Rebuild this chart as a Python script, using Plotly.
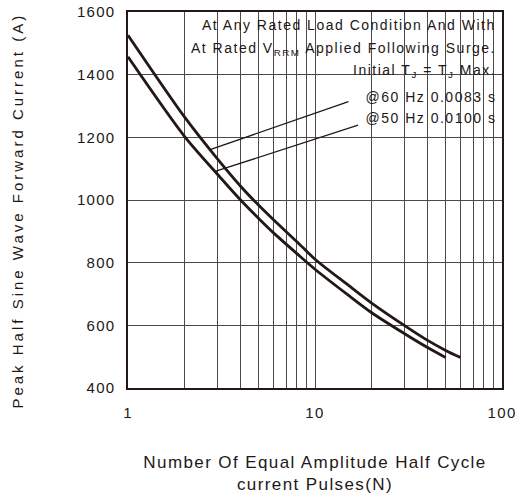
import numpy as np
import plotly.graph_objects as go

# ---- data ----
N_60 = [1, 2, 3, 4, 5, 6, 8, 10, 15, 20, 30, 40, 50, 60]
I_60 = [1526, 1266, 1132, 1044, 983, 937, 867, 811, 729, 672, 600, 552, 520, 497]
N_50 = [1, 2, 3, 4, 5, 6, 8, 10, 15, 20, 30, 40, 50]
I_50 = [1457, 1204, 1083, 1000, 941, 895, 829, 779, 697, 641, 574, 529, 497]

x_major = [1, 10, 100]
x_minor = [2, 3, 4, 5, 6, 7, 8, 9, 20, 30, 40, 50, 60, 70, 80, 90]
y_tickvals = [400, 600, 800, 1000, 1200, 1400, 1600]

# leader lines: point on curve (N) -> label end (N, I)
lead60_N = [2.75, 15.1]
lead60_I_end = 1314
lead50_N = [2.92, 17.0]
lead50_I_end = 1239

notes = [
    "At Any Rated Load Condition And With",
    "At Rated V<sub>RRM</sub> Applied Following Surge.",
    "Initial T<sub>J</sub> = T<sub>J</sub> Max.",
    "@60 Hz 0.0083 s",
    "@50 Hz 0.0100 s",
]
x_title = "Number Of Equal Amplitude Half Cycle<br>current Pulses(N)"
y_title = "Peak Half Sine Wave Forward Current (A)"

INK = "#231815"
GRID = "#4d4949"
FONT = "Liberation Sans, Arial, sans-serif"


def on_curve(n, Ns, Is):
    return float(np.interp(np.log10(n), np.log10(Ns), Is))


fig = go.Figure()
fig.add_trace(go.Scatter(x=N_60, y=I_60, mode="lines", line=dict(color=INK, width=2.8, shape="spline", smoothing=0.8),
                         showlegend=False, hoverinfo="skip"))
fig.add_trace(go.Scatter(x=N_50, y=I_50, mode="lines", line=dict(color=INK, width=2.8, shape="spline", smoothing=0.8),
                         showlegend=False, hoverinfo="skip"))
fig.add_trace(go.Scatter(x=lead60_N, y=[on_curve(lead60_N[0], N_60, I_60), lead60_I_end], mode="lines",
                         line=dict(color=INK, width=1.3), showlegend=False, hoverinfo="skip"))
fig.add_trace(go.Scatter(x=lead50_N, y=[on_curve(lead50_N[0], N_50, I_50), lead50_I_end], mode="lines",
                         line=dict(color=INK, width=1.3), showlegend=False, hoverinfo="skip"))

# white boxes hiding grid behind the notes
fig.add_shape(type="rect", xref="paper", yref="paper", x0=0.156, x1=0.997, y0=0.855, y1=0.99,
              fillcolor="white", line=dict(width=0), layer="between")
fig.add_shape(type="rect", xref="paper", yref="paper", x0=0.595, x1=0.997, y0=0.68, y1=0.856,
              fillcolor="white", line=dict(width=0), layer="between")

ys = [0.966, 0.901, 0.842, 0.775, 0.719]
for t, yy in zip(notes, ys):
    fig.add_annotation(text=t, xref="paper", yref="paper", x=0.99, y=yy, xanchor="right", yanchor="middle",
                       align="right", showarrow=False, font=dict(family=FONT, size=14, color=INK))

# y-axis title as rotated text
fig.add_annotation(text=y_title, xref="paper", yref="paper", x=-0.297, y=0.473, xanchor="center",
                   yanchor="middle", textangle=-90, showarrow=False,
                   font=dict(family=FONT, size=15, color=INK))

fig.update_xaxes(type="log", range=[0, 2], tickvals=x_major,
                 showgrid=True, gridcolor=GRID, gridwidth=1.3, automargin=False,
                 minor=dict(tickvals=x_minor, showgrid=True, gridcolor=GRID, gridwidth=1.3, ticks=""),
                 showline=True, linecolor=INK, linewidth=1.5, mirror=True,
                 ticks="outside", ticklen=10, tickcolor="rgba(0,0,0,0)",
                 tickfont=dict(family=FONT, size=15, color=INK), zeroline=False,
                 title=dict(text=x_title, font=dict(family=FONT, size=17, color=INK), standoff=36))
fig.update_yaxes(range=[400, 1600], tickvals=y_tickvals,
                 showgrid=True, gridcolor=GRID, gridwidth=1.3, automargin=False,
                 showline=True, linecolor=INK, linewidth=1.5, mirror=True,
                 ticks="outside", ticklen=8, tickcolor="rgba(0,0,0,0)",
                 tickfont=dict(family=FONT, size=15, color=INK), zeroline=False)

fig.update_layout(width=520, height=499, autosize=False, margin=dict(l=128, r=18, t=12, b=111, pad=0),
                  paper_bgcolor="white", plot_bgcolor="white")

post = """
document.body.style.margin = '0';
document.body.style.overflow = 'hidden';
var gd = document.getElementById('{plot_id}');
function ls(sel, v){ gd.querySelectorAll(sel).forEach(function(e){ e.style.letterSpacing = v; }); }
ls('text.xtitle', '1.4px');
ls('.xtick text', '1.4px');
ls('.ytick text', '1.2px');
gd.querySelectorAll('text.annotation-text').forEach(function(e){
  e.style.letterSpacing = (e.textContent.indexOf('Peak') === 0) ? '3.0px' : '1.5px';
});
"""
fig.write_html("out.html", post_script=post, config={"displayModeBar": False, "responsive": False})
